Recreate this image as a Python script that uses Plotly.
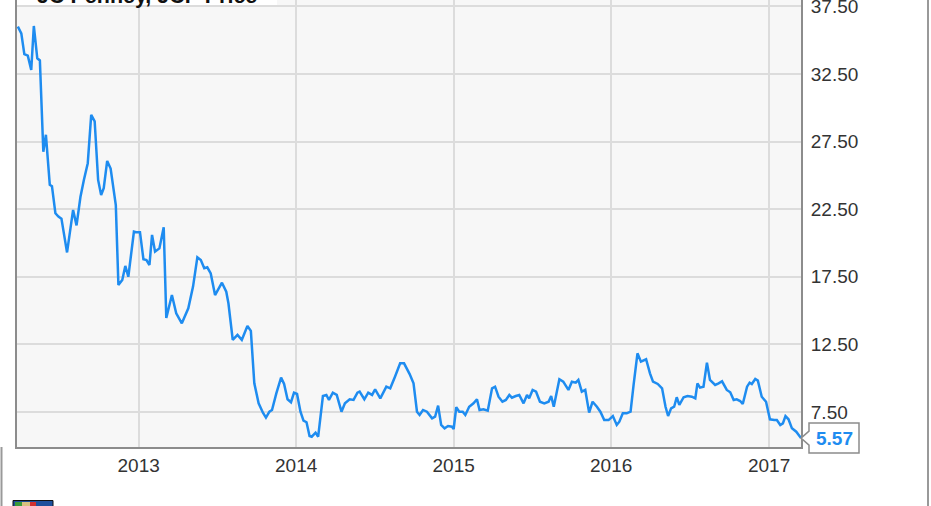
import plotly.graph_objects as go

# ---- data ----
dates = [
    "2012-03-27", "2012-04-04", "2012-04-11", "2012-04-19", "2012-04-27", "2012-05-03", "2012-05-11", "2012-05-17", "2012-05-25", "2012-05-31",
    "2012-06-09", "2012-06-14", "2012-06-22", "2012-06-29", "2012-07-06", "2012-07-13", "2012-07-19", "2012-07-27", "2012-08-02", "2012-08-10",
    "2012-08-19", "2012-08-27", "2012-09-05", "2012-09-13", "2012-09-21", "2012-09-29", "2012-10-06", "2012-10-12", "2012-10-20", "2012-10-28",
    "2012-11-09", "2012-11-15", "2012-11-24", "2012-12-01", "2012-12-08", "2012-12-21", "2012-12-26", "2013-01-04", "2013-01-12", "2013-01-19",
    "2013-01-26", "2013-02-01", "2013-02-08", "2013-02-18", "2013-02-28", "2013-03-06", "2013-03-19", "2013-03-29", "2013-04-11", "2013-04-26",
    "2013-05-07", "2013-05-17", "2013-05-25", "2013-06-02", "2013-06-09", "2013-06-17", "2013-06-27", "2013-07-13", "2013-07-23", "2013-07-28",
    "2013-08-07", "2013-08-18", "2013-08-28", "2013-09-10", "2013-09-18", "2013-09-26", "2013-10-06", "2013-10-16", "2013-10-23", "2013-10-31",
    "2013-11-06", "2013-11-16", "2013-11-27", "2013-12-04", "2013-12-12", "2013-12-20", "2013-12-27", "2014-01-03", "2014-01-11", "2014-01-18",
    "2014-01-25", "2014-02-01", "2014-02-06", "2014-02-15", "2014-02-21", "2014-03-04", "2014-03-12", "2014-03-18", "2014-03-27", "2014-04-05",
    "2014-04-16", "2014-04-24", "2014-05-05", "2014-05-14", "2014-05-23", "2014-05-28", "2014-06-08", "2014-06-17", "2014-06-26", "2014-07-03",
    "2014-07-15", "2014-07-29", "2014-08-07", "2014-08-18", "2014-08-30", "2014-09-08", "2014-09-21", "2014-09-30", "2014-10-08", "2014-10-14",
    "2014-10-22", "2014-10-31", "2014-11-12", "2014-11-19", "2014-11-26", "2014-12-03", "2014-12-11", "2014-12-19", "2014-12-28", "2015-01-01",
    "2015-01-07", "2015-01-14", "2015-01-22", "2015-01-28", "2015-02-06", "2015-02-16", "2015-02-24", "2015-03-02", "2015-03-11", "2015-03-21",
    "2015-03-31", "2015-04-07", "2015-04-15", "2015-04-24", "2015-05-02", "2015-05-10", "2015-05-16", "2015-05-25", "2015-06-02", "2015-06-12",
    "2015-06-20", "2015-06-25", "2015-07-03", "2015-07-11", "2015-07-20", "2015-07-30", "2015-08-09", "2015-08-15", "2015-08-21", "2015-09-03",
    "2015-09-12", "2015-09-24", "2015-10-02", "2015-10-11", "2015-10-17", "2015-10-25", "2015-11-02", "2015-11-11", "2015-11-19", "2015-11-29",
    "2015-12-07", "2015-12-16", "2015-12-26", "2016-01-05", "2016-01-14", "2016-01-20", "2016-01-28", "2016-02-06", "2016-02-15", "2016-02-22",
    "2016-03-02", "2016-03-10", "2016-03-22", "2016-03-31", "2016-04-07", "2016-04-18", "2016-04-28", "2016-05-06", "2016-05-12", "2016-05-19",
    "2016-05-26", "2016-06-01", "2016-06-07", "2016-06-17", "2016-06-26", "2016-07-06", "2016-07-14", "2016-07-19", "2016-07-25", "2016-08-02",
    "2016-08-10", "2016-08-17", "2016-08-29", "2016-09-06", "2016-09-14", "2016-09-25", "2016-10-03", "2016-10-11", "2016-10-18", "2016-10-26",
    "2016-11-01", "2016-11-11", "2016-11-17", "2016-11-22", "2016-11-30", "2016-12-06", "2016-12-15", "2016-12-25", "2017-01-03", "2017-01-13",
    "2017-01-19", "2017-01-27", "2017-02-02", "2017-02-08", "2017-02-15", "2017-02-23", "2017-03-05", "2017-03-16",
]

prices = [
    36.0, 35.5, 33.96, 33.85, 32.8, 36.05, 33.66, 33.5, 26.75, 28.0,
    24.3, 24.2, 22.2, 21.95, 21.8, 20.6, 19.3, 21.1, 22.44, 21.3,
    23.4, 24.66, 25.9, 29.47, 29.0, 24.66, 23.55, 24.05, 26.07, 25.5,
    22.8, 16.9, 17.26, 18.3, 17.5, 20.84, 20.8, 20.8, 18.8, 18.74,
    18.37, 20.6, 19.36, 19.6, 21.16, 14.45, 16.15, 14.8, 14.06, 15.17,
    16.77, 18.94, 18.74, 18.13, 18.2, 17.75, 16.15, 17.06, 16.4, 15.54,
    12.83, 13.2, 12.83, 13.86, 13.5, 9.62, 8.14, 7.45, 7.08, 7.52,
    7.65, 8.88, 10.04, 9.57, 8.44, 8.22, 8.93, 8.83, 7.52, 6.86,
    6.74, 5.72, 5.67, 5.97, 5.67, 8.68, 8.76, 8.39, 8.93, 8.76,
    7.52, 8.14, 8.44, 8.39, 8.93, 9.0, 8.44, 8.93, 8.76, 9.18,
    8.51, 9.37, 9.25, 10.11, 11.1, 11.1, 10.3, 9.62, 7.52, 7.28,
    7.65, 7.52, 7.03, 7.15, 7.97, 6.54, 6.29, 6.46, 6.41, 6.24,
    7.85, 7.52, 7.52, 7.28, 7.89, 8.14, 8.44, 7.65, 7.7, 7.6,
    9.25, 9.37, 8.63, 8.26, 8.39, 8.76, 8.56, 8.68, 8.76, 8.14,
    8.76, 8.51, 9.13, 9.0, 8.26, 8.14, 8.26, 8.68, 7.89, 9.92,
    9.74, 9.13, 9.74, 9.67, 9.87, 9.0, 9.13, 7.45, 8.26, 7.89,
    7.52, 6.91, 6.9, 7.2, 6.54, 6.78, 7.4, 7.4, 7.52, 9.5,
    11.84, 11.22, 11.4, 10.36, 9.74, 9.57, 9.25, 7.89, 7.2, 7.77,
    7.89, 8.59, 8.02, 8.59, 8.68, 8.63, 8.51, 9.62, 9.3, 9.37,
    11.15, 9.87, 9.5, 9.62, 9.77, 9.13, 8.96, 8.39, 8.44, 8.31,
    8.09, 9.37, 9.67, 9.57, 9.94, 9.82, 8.63, 8.26, 6.96, 6.91,
    6.91, 6.54, 6.66, 7.2, 6.96, 6.29, 6.04, 5.57,
]

series_name = "JC Penney, JCP Price"
x_range = ["2012-03-25", "2017-03-16"]
y_range = [4.91, 37.97]

# ---- styling ----
W, H = 931, 506
ML, MR, MT, MB = 17, 130, 0, 59
PW, PH = W - ML - MR, H - MT - MB
LINE_BLUE = "#1e8cf0"
GRID = "#dcdcdc"
AXIS = "#8c8c8c"
FONT = "Liberation Sans, Arial, sans-serif"


def px(x):
    return (x - ML) / PW


def py(y):
    return (H - MB - y) / PH


fig = go.Figure()
fig.add_trace(go.Scatter(
    x=dates, y=prices, mode="lines", name=series_name,
    line=dict(color=LINE_BLUE, width=2.5),
    hoverinfo="x+y",
))

last_val = prices[-1]
# position of the last value as a fraction of the y axis (for the callout, which
# sits outside the plot area and must not be clipped by it)
last_frac = (last_val - y_range[0]) / (y_range[1] - y_range[0])

fig.update_layout(
    width=W, height=H,
    margin=dict(l=ML, r=MR, t=MT, b=MB, pad=0, autoexpand=False),
    paper_bgcolor="white",
    plot_bgcolor="#f7f7f7",
    showlegend=False,
    font=dict(family=FONT, size=19, color="#333333"),
    xaxis=dict(
        type="date", range=x_range,
        tick0="2013-01-01", dtick="M12", tickformat="%Y",
        showgrid=True, gridcolor=GRID, gridwidth=2,
        showline=True, linecolor=AXIS, linewidth=2,
        ticks="", zeroline=False, automargin=False,
        tickfont=dict(size=19, color="#333333"),
        ticklabelstandoff=0,
    ),
    yaxis=dict(
        side="right", range=y_range,
        tick0=7.5, dtick=5, tickformat=".2f",
        showgrid=True, gridcolor=GRID, gridwidth=2,
        showline=True, mirror=True, linecolor=AXIS, linewidth=2,
        ticks="", zeroline=False, automargin=False,
        ticklabeloverflow="allow",
        tickfont=dict(size=19, color="#333333"),
        ticklabelstandoff=4,
    ),
    shapes=[
        # white strip behind the cut-off series title
        dict(type="rect", xref="paper", yref="paper",
             x0=px(17), x1=px(277), y0=py(5), y1=py(-5),
             fillcolor="white", line=dict(width=0), layer="above"),
        # callout box for the last value
        dict(type="path", xref="paper", yref="paper",
             xsizemode="pixel", ysizemode="pixel",
             xanchor=1, yanchor=last_frac,
             path="M 0 0 L 8 7 L 8 15 L 58 15 L 58 -15 L 8 -15 L 8 -7 Z",
             fillcolor="white", line=dict(color=AXIS, width=1.5), layer="above"),
        # outer frame lines
        dict(type="line", xref="paper", yref="paper",
             x0=px(928), x1=px(928), y0=py(506), y1=py(0),
             line=dict(color="#999999", width=2)),
        dict(type="line", xref="paper", yref="paper",
             x0=px(1.5), x1=px(1.5), y0=py(506), y1=py(447),
             line=dict(color="#999999", width=2)),
        # tiny logo fragment at the bottom-left
        dict(type="rect", xref="paper", yref="paper",
             x0=px(13), x1=px(53), y0=py(507), y1=py(500.5),
             fillcolor="#1d4f9c", line=dict(color="#111111", width=1)),
        dict(type="rect", xref="paper", yref="paper",
             x0=px(15), x1=px(22), y0=py(507), y1=py(502),
             fillcolor="#3a9a3a", line=dict(width=0)),
        dict(type="rect", xref="paper", yref="paper",
             x0=px(22), x1=px(30), y0=py(507), y1=py(502),
             fillcolor="#d8c080", line=dict(width=0)),
        dict(type="rect", xref="paper", yref="paper",
             x0=px(30), x1=px(36), y0=py(507), y1=py(502),
             fillcolor="#d03030", line=dict(width=0)),
    ],
    annotations=[
        dict(text="<b>" + series_name + "</b>", xref="paper", yref="paper",
             x=px(35), y=1, xanchor="left", yanchor="bottom", yshift=-10,
             showarrow=False, font=dict(size=21.5, color="#111111")),
        dict(text="<b>%.2f</b>" % last_val, xref="paper", yref="paper",
             x=1, y=last_frac, xanchor="center", yanchor="middle", xshift=33,
             showarrow=False, font=dict(size=19, color=LINE_BLUE)),
    ],
)

fig.write_html(
    "out.html",
    config={"displayModeBar": False},
    post_script="document.body.style.margin='0';document.body.style.padding='0';",
)
